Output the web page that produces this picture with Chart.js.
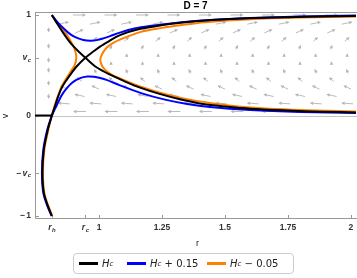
<!DOCTYPE html>
<html lang="en">
<head>
    <meta charset="UTF-8">
    <title>D = 7</title>
    <style>
        body { margin: 0; background: #fff; }
        #wrap { position: relative; width: 357px; height: 278px; }
        #legend {
            position: absolute; left: 73px; top: 253px; width: 221px; height: 21px;
            box-sizing: border-box; border: 1px solid #ccc; border-radius: 4px;
            font: 10px "DejaVu Sans", sans-serif; color: #222;
        }
        #legend .item { position: absolute; top: 3px; display: flex; align-items: center; white-space: nowrap; height: 13px; }
        #legend .sw { display: inline-block; width: 19px; height: 3px; margin-right: 4px; }
        #legend sub { font-size: 7px; vertical-align: -2px; }
    </style>
</head>
<body>
<div id="wrap">
    <canvas id="phaseChart" width="357" height="278"></canvas>
    <div id="legend">
        <span class="item" style="left:5px"><span class="sw" style="background:#000"></span><i>H</i><sub><i>c</i></sub></span>
        <span class="item" style="left:53px"><span class="sw" style="background:#0000ff"></span><i>H</i><sub><i>c</i></sub>&nbsp;+ 0.15</span>
        <span class="item" style="left:133px"><span class="sw" style="background:#ff8000"></span><i>H</i><sub><i>c</i></sub>&nbsp;&minus; 0.05</span>
    </div>
</div>

<script src="https://cdn.jsdelivr.net/npm/chart.js"></script>
<script>
    // special points
    const rH = 0.813, rC = 0.946, vC = 0.575;
    const xMin = 0.746, xMax = 2.02, yMin = -1.02, yMax = 1.03;

    // axis ticks
    const xTicks = [rH, rC, 1, 1.25, 1.5, 1.75, 2];
    const xTickLabels = ['r_h', 'r_c', '1', '1.25', '1.5', '1.75', '2'];
    const yTicks = [1, vC, 0, -vC, -1];
    const yTickLabels = ['1', 'v_c', '0', '-v_c', '-1'];

    // H = Hc (black), [r, v]
    const hcThroughOrigin = [[0.813,-1.0],[0.797,-0.9],[0.781,-0.77],[0.7755,-0.57],[0.781,-0.34],[0.797,-0.14],
        [0.813,0],[0.826,0.1],[0.838,0.19],[0.853,0.28],[0.872,0.356],[0.89,0.42],[0.911,0.488],[0.946,0.575],
        [0.975,0.632],[1.004,0.686],[1.04,0.74],[1.083,0.80],[1.16,0.86],[1.25,0.90],[1.33,0.925],[1.42,0.945],
        [1.5,0.958],[1.62,0.97],[1.75,0.978],[1.88,0.985],[2.02,0.99]];
    const hcFromTop = [[0.813,1.0],[0.835,0.91],[0.858,0.822],[0.878,0.75],[0.898,0.69],[0.922,0.63],[0.946,0.575],
        [0.99,0.48],[1.044,0.406],[1.10,0.342],[1.163,0.277],[1.24,0.215],[1.321,0.162],[1.413,0.115],[1.5,0.09],
        [1.6,0.068],[1.75,0.05],[1.88,0.038],[2.02,0.03]];
    const hcAxis = [[xMin,0],[rH,0]];

    // H = Hc + 0.15 (blue)
    const plusUpper = [[0.813,1.0],[0.835,0.93],[0.858,0.871],[0.878,0.825],[0.898,0.79],[0.918,0.768],[0.938,0.752],
        [0.965,0.745],[0.991,0.75],[1.02,0.77],[1.044,0.79],[1.083,0.825],[1.14,0.865],[1.2,0.89],[1.32,0.925],
        [1.44,0.95],[1.6,0.97],[1.8,0.985],[2.02,0.995]];
    const plusLower = [[0.813,0],[0.822,0.05],[0.832,0.1],[0.845,0.17],[0.858,0.225],[0.875,0.28],[0.892,0.324],
        [0.91,0.355],[0.931,0.377],[0.955,0.388],[0.98,0.385],[1.005,0.373],[1.03,0.355],[1.083,0.3],[1.17,0.22],
        [1.262,0.158],[1.35,0.115],[1.44,0.085],[1.6,0.055],[1.8,0.035],[2.02,0.024]];
    const plusNeg = [[0.813,0],[0.795,-0.14],[0.779,-0.34],[0.7735,-0.57],[0.779,-0.77],[0.795,-0.9],[0.812,-1.0]];

    // H = Hc - 0.05 (orange)
    const minusLeft = [[0.813,1.0],[0.84,0.905],[0.872,0.805],[0.898,0.69],[0.907,0.63],[0.91,0.574],[0.904,0.505],
        [0.888,0.44],[0.868,0.36],[0.85,0.28],[0.835,0.18],[0.822,0.08],[0.813,0],[0.799,-0.14],[0.783,-0.34],
        [0.7775,-0.57],[0.783,-0.77],[0.799,-0.9],[0.815,-1.0]];
    const minusRight = [[2.02,0.04],[1.8,0.055],[1.6,0.08],[1.44,0.125],[1.321,0.178],[1.25,0.222],[1.163,0.29],
        [1.083,0.37],[1.055,0.40],[1.03,0.44],[1.013,0.49],[1.005,0.554],[1.013,0.615],[1.03,0.675],[1.055,0.72],
        [1.083,0.755],[1.163,0.83],[1.25,0.872],[1.321,0.898],[1.42,0.928],[1.6,0.958],[1.8,0.975],[2.02,0.985]];

    // stream arrows: one entry per row
    const arrowRowV     = [1.0, 0.92, 0.84, 0.76, 0.68, 0.60, 0.52, 0.44, 0.36, 0.28, 0.20, 0.12, 0.04];
    const arrowRowAngle = [0, 12, 25, 42, 62, 80, 100, 118, 138, 155, 168, 176, 180];
    const arrowRowLen   = [13, 11, 9, 6.5, 5, 4, 4, 5, 6.5, 8.5, 10.5, 12, 13];
    const arrowRowStart = [0.9225, 0.86, 0.9225, 0.985, 1.0475, 1.11, 1.0475, 0.985, 0.9225, 0.86, 0.9225, 0.86, 0.9225];
    const arrowStep = 0.125;
    const arrowLeftR = 0.80;
    const arrowLeftV = [0.85, 0.69, 0.55, 0.45, 0.32, 0.19];

    const toXY = pts => pts.map(p => ({x: p[0], y: p[1]}));

    function curve(pts, color, order) {
        return {
            data: toXY(pts), showLine: true, borderColor: color, borderWidth: 2,
            pointRadius: 0, tension: 0.3, fill: false, order: order
        };
    }

    function drawArrow(c, x, y, ang, len) {
        const a = ang * Math.PI / 180;
        const dx = Math.cos(a), dy = -Math.sin(a);
        const head = 3.5, hw = 1.7;
        const tx = x - dx * len / 2, ty = y - dy * len / 2;
        const hx = x + dx * len / 2, hy = y + dy * len / 2;
        const bx = hx - dx * head, by = hy - dy * head;
        if (len > head + 0.5) {
            c.beginPath();
            c.moveTo(tx, ty);
            c.lineTo(bx, by);
            c.stroke();
        }
        c.beginPath();
        c.moveTo(hx, hy);
        c.lineTo(bx - dy * hw, by + dx * hw);
        c.lineTo(bx + dy * hw, by - dx * hw);
        c.closePath();
        c.fill();
    }

    // frame + vector field under the curves
    const fieldPlugin = {
        id: 'field',
        beforeDatasetsDraw(chart) {
            const c = chart.ctx, a = chart.chartArea;
            const xs = chart.scales.x, ys = chart.scales.y;
            c.save();
            c.strokeStyle = '#bbbbbb';
            c.fillStyle = '#b4b4b4';
            c.lineWidth = 1;
            arrowRowV.forEach((v, i) => {
                for (let r = arrowRowStart[i]; r <= 2.0; r += arrowStep) {
                    drawArrow(c, xs.getPixelForValue(r), ys.getPixelForValue(v), arrowRowAngle[i], arrowRowLen[i]);
                }
            });
            arrowLeftV.forEach(v => {
                drawArrow(c, xs.getPixelForValue(arrowLeftR), ys.getPixelForValue(v), -90, 5);
            });

            // frame lines
            const y0 = Math.round(ys.getPixelForValue(0)) + 0.5;
            c.strokeStyle = '#c4c4c4';
            c.beginPath(); c.moveTo(a.left, y0); c.lineTo(a.right + 1, y0); c.stroke();
            c.strokeStyle = '#999';
            c.beginPath();
            c.moveTo(a.left + 0.5, a.top + 0.5); c.lineTo(a.right + 1, a.top + 0.5);
            c.moveTo(a.left + 0.5, a.top); c.lineTo(a.left + 0.5, a.bottom + 0.5);
            c.lineTo(a.right + 1, a.bottom + 0.5);
            c.stroke();
            // inward ticks
            c.beginPath();
            xTicks.forEach(t => {
                const px = Math.round(xs.getPixelForValue(t)) + 0.5;
                c.moveTo(px, a.bottom); c.lineTo(px, a.bottom - 3);
            });
            yTicks.forEach(t => {
                const py = Math.round(ys.getPixelForValue(t)) + 0.5;
                c.moveTo(a.left, py); c.lineTo(a.left + 4, py);
            });
            c.stroke();
            c.restore();
        }
    };

    function drawTickLabel(c, label, x, y, align) {
        let neg = false, base = label, sub = '';
        if (base[0] === '-') { neg = true; base = base.slice(1); }
        if (base.indexOf('_') >= 0) { [base, sub] = base.split('_'); }
        const it = sub ? 'italic ' : '';
        const fMain = it + 'bold 8.5px "Liberation Sans"';
        const fSub = it + 'bold 6px "Liberation Sans"';
        const fMinus = 'bold 8.5px "Liberation Sans"';
        c.font = fMinus; const wm = neg ? c.measureText('\u2212').width + 1 : 0;
        c.font = fMain; const wb = c.measureText(base).width;
        c.font = fSub; const ws = sub ? c.measureText(sub).width + 0.5 : 0;
        const w = wm + wb + ws;
        let x0 = align === 'right' ? x - w : x - w / 2;
        c.textBaseline = 'middle';
        c.textAlign = 'left';
        if (neg) { c.font = fMinus; c.fillText('\u2212', x0, y); x0 += wm; }
        c.font = fMain; c.fillText(base, x0, y); x0 += wb;
        if (sub) { c.font = fSub; c.fillText(sub, x0 + 0.5, y + 2.5); }
    }

    // tick labels, axis titles, plot title
    const textPlugin = {
        id: 'texts',
        afterDraw(chart) {
            const c = chart.ctx, a = chart.chartArea;
            const xs = chart.scales.x, ys = chart.scales.y;
            c.save();
            c.fillStyle = '#333';
            xTicks.forEach((t, i) => drawTickLabel(c, xTickLabels[i], xs.getPixelForValue(t), a.bottom + 10, 'center'));
            yTicks.forEach((t, i) => drawTickLabel(c, yTickLabels[i], a.left - 4, ys.getPixelForValue(t), 'right'));

            c.fillStyle = '#222';
            c.font = '9px "Liberation Sans"';
            c.textAlign = 'center';
            c.textBaseline = 'middle';
            c.fillText('r', (a.left + a.right) / 2 + 2, 244);
            c.save();
            c.translate(6, (a.top + a.bottom) / 2 + 1);
            c.rotate(-Math.PI / 2);
            c.fillText('v', 0, 0);
            c.restore();

            c.fillStyle = '#000';
            c.font = 'bold 10px "Liberation Sans"';
            c.fillText('D = 7', (a.left + a.right) / 2, 6);
            c.restore();
        }
    };

    const ctx = document.getElementById('phaseChart').getContext('2d');
    const chart = new Chart(ctx, {
        type: 'scatter',
        data: {
            datasets: [
                curve(hcThroughOrigin, '#000', 0),
                curve(hcFromTop, '#000', 0),
                curve(hcAxis, '#000', 0),
                curve(plusUpper, '#0000ff', 1),
                curve(plusLower, '#0000ff', 1),
                curve(plusNeg, '#0000ff', 1),
                curve(minusLeft, '#ff8000', 2),
                curve(minusRight, '#ff8000', 2)
            ]
        },
        options: {
            responsive: false,
            animation: false,
            devicePixelRatio: 1,
            layout: { padding: { left: 0, right: 1, top: 12, bottom: 0 } },
            plugins: { legend: { display: false }, tooltip: { enabled: false } },
            scales: {
                x: {
                    type: 'linear', min: xMin, max: xMax,
                    ticks: { display: false }, grid: { display: false }, border: { display: false },
                    afterFit: s => { s.height = 60; }
                },
                y: {
                    type: 'linear', min: yMin, max: yMax,
                    ticks: { display: false }, grid: { display: false }, border: { display: false },
                    afterFit: s => { s.width = 35; }
                }
            }
        },
        plugins: [fieldPlugin, textPlugin]
    });
</script>
</body>
</html>
